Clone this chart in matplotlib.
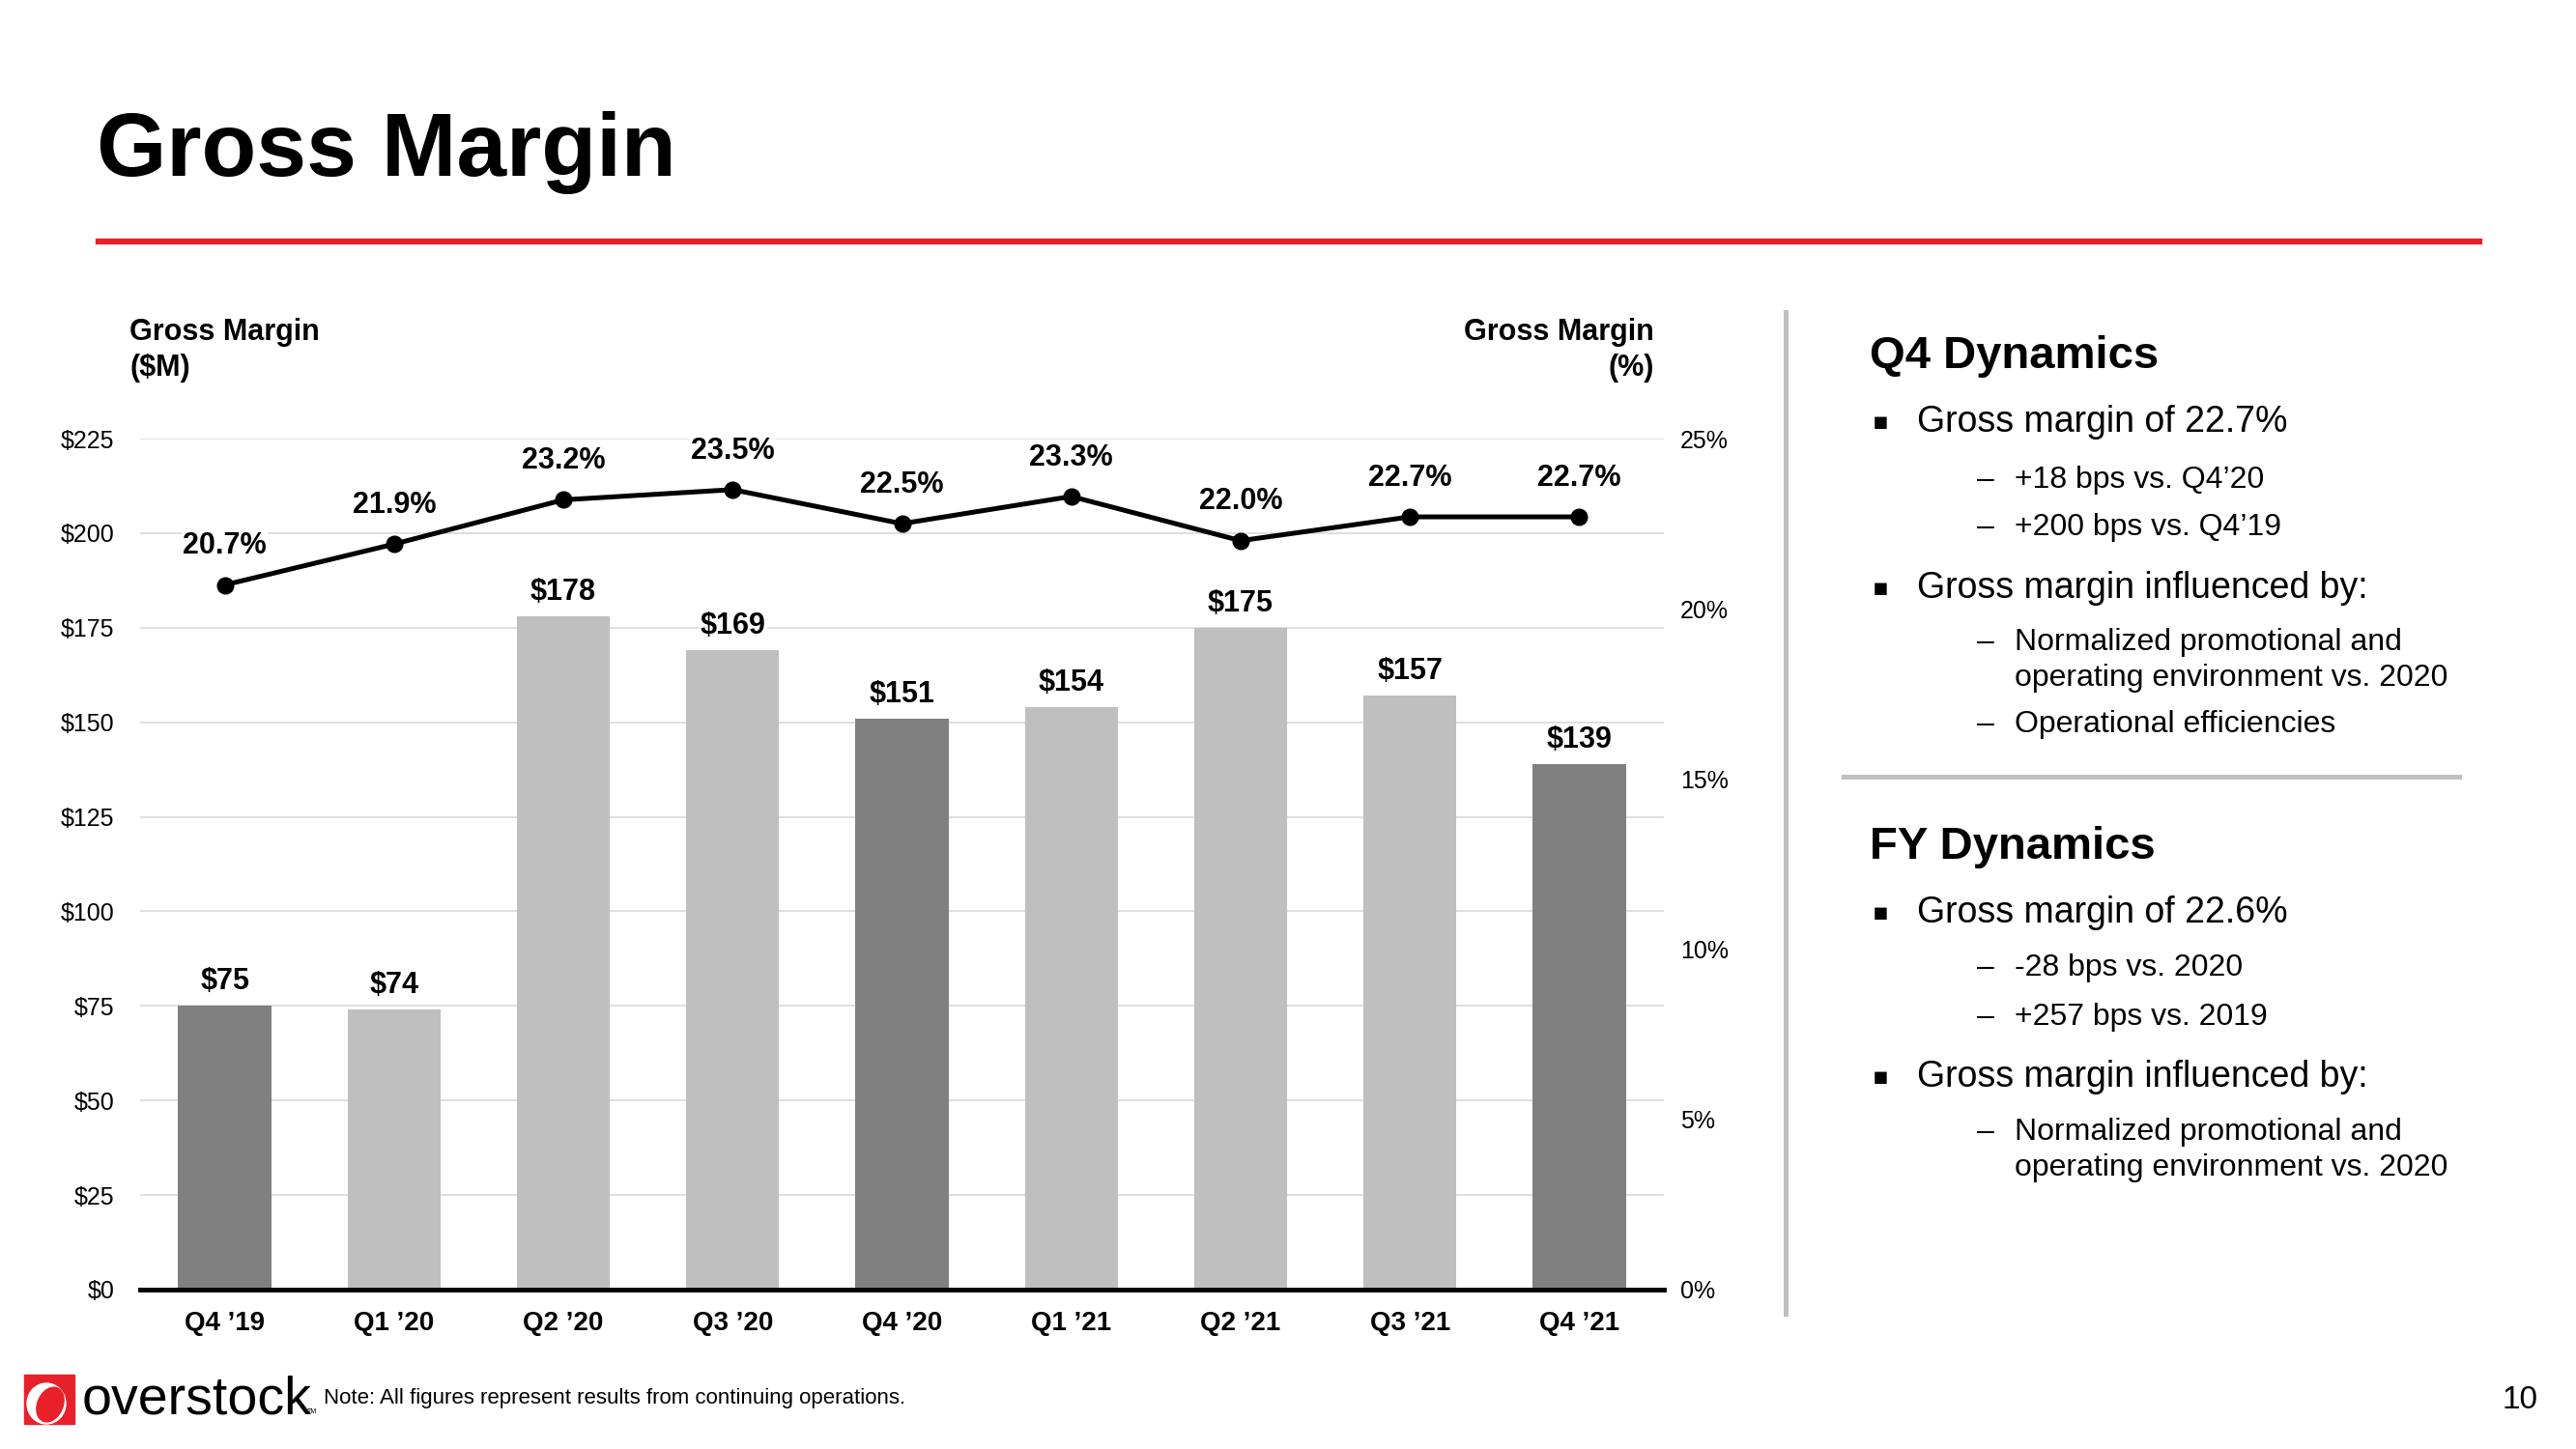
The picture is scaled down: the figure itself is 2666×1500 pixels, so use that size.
import numpy as np
import matplotlib.pyplot as plt
from matplotlib.patches import Rectangle, Ellipse
from matplotlib.lines import Line2D

plt.rcParams['font.family'] = ['Liberation Sans', 'DejaVu Sans']

# data
quarters = ["Q4 \u201919", "Q1 \u201920", "Q2 \u201920", "Q3 \u201920", "Q4 \u201920",
            "Q1 \u201921", "Q2 \u201921", "Q3 \u201921", "Q4 \u201921"]
gm_dollars = [75, 74, 178, 169, 151, 154, 175, 157, 139]
gm_pct = [20.7, 21.9, 23.2, 23.5, 22.5, 23.3, 22.0, 22.7, 22.7]
dollar_ticks = [0, 25, 50, 75, 100, 125, 150, 175, 200, 225]
pct_ticks = [0, 5, 10, 15, 20, 25]

q4_points = ["Gross margin of 22.7%",
             ["+18 bps vs. Q4\u201920", "+200 bps vs. Q4\u201919"],
             "Gross margin influenced by:",
             ["Normalized promotional and\noperating environment vs. 2020", "Operational efficiencies"]]
fy_points = ["Gross margin of 22.6%",
             ["-28 bps vs. 2020", "+257 bps vs. 2019"],
             "Gross margin influenced by:",
             ["Normalized promotional and\noperating environment vs. 2020"]]

W, H = 2666, 1500
RED = '#E8202A'
DARK = '#808080'
LIGHT = '#BFBFBF'


def fx(x):
    return x / W


def fy(y):
    return 1 - y / H


fig = plt.figure(figsize=(26.66, 15), dpi=100)

# title + red rule
fig.text(fx(100), fy(182), "Gross Margin", fontsize=67, fontweight='bold', va='baseline')
fig.add_artist(Line2D([fx(102), fx(2566)], [fy(250), fy(250)], color=RED, lw=4.5))

# chart
ax = fig.add_axes([fx(145), fy(1335), fx(1722) - fx(145), fy(454) - fy(1335)])
x = np.arange(len(quarters))
colors = [DARK if q.startswith("Q4") else LIGHT for q in quarters]
ax.bar(x, gm_dollars, width=0.55, color=colors, zorder=2)
ax.set_xlim(-0.5, len(quarters) - 0.5)
ax.set_ylim(0, 225)
ax.set_yticks(dollar_ticks)
ax.set_yticklabels(["$%d" % v for v in dollar_ticks], fontsize=18)
ax.set_xticks(x)
ax.set_xticklabels(quarters, fontsize=20, fontweight='bold')
ax.tick_params(axis='y', length=0, pad=19)
ax.tick_params(axis='x', length=0, pad=16)
ax.grid(axis='y', color='#D9D9D9', lw=1.2, zorder=0)
ax.set_axisbelow(True)
for s in ['top', 'left', 'right']:
    ax.spines[s].set_visible(False)
ax.spines['bottom'].set_linewidth(3.5)
ax.spines['bottom'].set_zorder(5)

for xi, v in zip(x, gm_dollars):
    ax.annotate("$%d" % v, (xi, v), xytext=(0, 18), textcoords='offset points',
                ha='center', va='center', fontsize=22, fontweight='bold', zorder=4,
                bbox=dict(facecolor='white', edgecolor='none', pad=1))

ax2 = ax.twinx()
ax2.set_ylim(0, 25)
ax2.set_yticks(pct_ticks)
ax2.set_yticklabels(["%d%%" % v for v in pct_ticks], fontsize=18)
ax2.tick_params(axis='y', length=0, pad=12)
for s in ax2.spines.values():
    s.set_visible(False)
ax2.plot(x, gm_pct, color='black', lw=3.6, marker='o', markersize=12, zorder=3)
for xi, v in zip(x, gm_pct):
    ax2.annotate("%.1f%%" % v, (xi, v), xytext=(0, 29), textcoords='offset points',
                 ha='center', va='center', fontsize=22, fontweight='bold',
                 bbox=dict(facecolor='white', edgecolor='none', pad=1))

fig.text(fx(134), fy(389), "Gross Margin\n($M)", fontsize=22, fontweight='bold',
         va='baseline', linespacing=1.3)
fig.text(fx(1712), fy(389), "Gross Margin\n(%)", fontsize=22, fontweight='bold',
         ha='right', va='baseline', multialignment='right', linespacing=1.3)

# separators
fig.add_artist(Line2D([fx(1848), fx(1848)], [fy(323), fy(1360)], color=LIGHT, lw=3.6))
fig.add_artist(Line2D([fx(1908), fx(2545)], [fy(804), fy(804)], color=LIGHT, lw=3.6))


# right-hand commentary (main bullets centred at ys_main, sub bullets on baselines ys_sub)
def panel(heading, head_y, items, ys_main, ys_sub):
    fig.text(fx(1935), fy(head_y), heading, fontsize=34, fontweight='bold', va='baseline')
    m = 0
    k = 0
    for item in items:
        if isinstance(item, str):
            fig.text(fx(1938), fy(ys_main[m]), "\u25aa", fontsize=18, va='center',
                     family=['DejaVu Sans'])
            fig.text(fx(1984), fy(ys_main[m]), item, fontsize=27, va='center')
            m += 1
        else:
            for sub in item:
                fig.text(fx(2046), fy(ys_sub[k]), "\u2013", fontsize=23, va='baseline')
                for j, line in enumerate(sub.split("\n")):
                    fig.text(fx(2085), fy(ys_sub[k] + 37 * j), line, fontsize=23,
                             va='baseline')
                k += 1


panel("Q4 Dynamics", 381, q4_points, [437, 609], [505, 554, 673, 758])
panel("FY Dynamics", 889, fy_points, [945, 1115], [1010, 1061, 1180])

# footer: logo, note, page number
fig.add_artist(Rectangle((fx(25), fy(1474)), fx(77) - fx(25), fy(1423) - fy(1474),
                         transform=fig.transFigure, color=RED))
fig.add_artist(Ellipse((fx(48), fy(1453)), fx(40), fy(1432) - fy(1474),
                       transform=fig.transFigure, color='white'))
fig.add_artist(Ellipse((fx(52), fy(1454)), fx(27), fy(1436) - fy(1472), angle=-8,
                       transform=fig.transFigure, color=RED))
fig.text(fx(85), fy(1463), "overstock", fontsize=40, va='baseline')
fig.text(fx(318), fy(1463), "TM", fontsize=5, va='baseline')
fig.text(fx(335), fy(1447), "Note: All figures represent results from continuing operations.",
         fontsize=16, va='center')
fig.text(fx(2627), fy(1450), "10", fontsize=24, ha='right', va='center')

fig.savefig("out.png", dpi=100)
